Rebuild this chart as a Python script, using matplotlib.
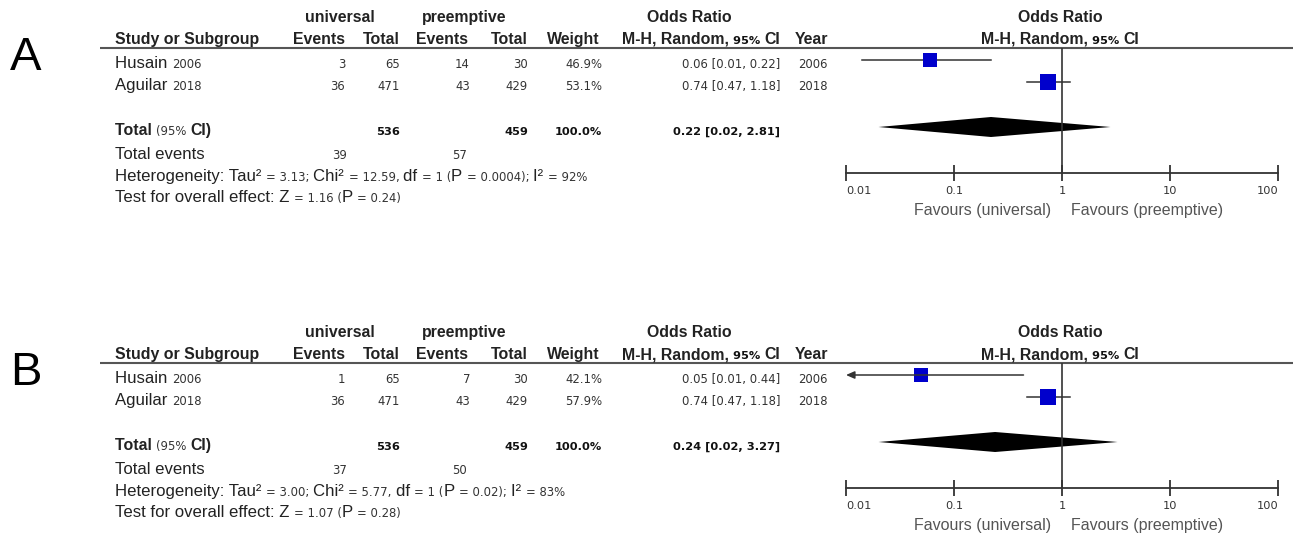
import matplotlib
matplotlib.use("Agg")
import matplotlib.pyplot as plt
from matplotlib.ticker import FixedLocator, FixedFormatter, NullLocator

# ---------------- data ----------------
panel_labels = ["A", "B"]
studies = ["Husain", "Aguilar"]
study_years = ["2006", "2018"]
tick_values = [0.01, 0.1, 1, 10, 100]
tick_labels = ["0.01", "0.1", "1", "10", "100"]
group_names = ["universal", "preemptive"]
favours = ["Favours (universal)", "Favours (preemptive)"]

A_events_u = [3, 36]
A_total_u = [65, 471]
A_events_p = [14, 43]
A_total_p = [30, 429]
A_weight = [46.9, 53.1]
A_or = [0.06, 0.74]
A_lo = [0.014, 0.47]
A_hi = [0.22, 1.18]
A_pooled = [0.22, 0.02, 2.81]
A_tau2, A_chi2, A_df, A_phet, A_i2 = "3.13", "12.59", "1", "0.0004", "92"
A_z, A_pz = "1.16", "0.24"

B_events_u = [1, 36]
B_total_u = [65, 471]
B_events_p = [7, 43]
B_total_p = [30, 429]
B_weight = [42.1, 57.9]
B_or = [0.05, 0.74]
B_lo = [0.006, 0.47]
B_hi = [0.44, 1.18]
B_pooled = [0.24, 0.02, 3.27]
B_tau2, B_chi2, B_df, B_phet, B_i2 = "3.00", "5.77", "1", "0.02", "83"
B_z, B_pz = "1.07", "0.28"

panels = [
    dict(ev_u=A_events_u, tot_u=A_total_u, ev_p=A_events_p, tot_p=A_total_p,
         w=A_weight, orr=A_or, lo=A_lo, hi=A_hi, pooled=A_pooled,
         het=(A_tau2, A_chi2, A_df, A_phet, A_i2), z=(A_z, A_pz)),
    dict(ev_u=B_events_u, tot_u=B_total_u, ev_p=B_events_p, tot_p=B_total_p,
         w=B_weight, orr=B_or, lo=B_lo, hi=B_hi, pooled=B_pooled,
         het=(B_tau2, B_chi2, B_df, B_phet, B_i2), z=(B_z, B_pz)),
]

# ---------------- styles ----------------
W, H = 1293, 535
fig = plt.figure(figsize=(W / 100, H / 100), dpi=100)
bg = fig.add_axes([0, 0, 1, 1])
bg.set_xlim(0, W)
bg.set_ylim(H, 0)
bg.axis("off")
renderer = fig.canvas.get_renderer()

TXT = "#222222"
BIG = dict(family="Liberation Sans", fontsize=12.1, color=TXT)
BIGB = dict(family="Liberation Sans", fontsize=11.4, color=TXT, fontweight="bold")
SM = dict(family="DejaVu Sans", fontsize=8.4, color="#333333")
SMB = dict(family="DejaVu Sans", fontsize=8.2, color="#111111", fontweight="bold")


def rich(x, y, segs, ha="left"):
    texts, widths = [], []
    for s, st in segs:
        t = bg.text(0, y, s, va="baseline", ha="left", **st)
        texts.append(t)
        widths.append(t.get_window_extent(renderer).width)
    total = sum(widths)
    start = x if ha == "left" else (x - total if ha == "right" else x - total / 2)
    cx = start
    for t, w in zip(texts, widths):
        t.set_x(cx)
        cx += w


def txt(x, y, s, st, ha="right"):
    bg.text(x, y, s, va="baseline", ha=ha, **st)


col_evu, col_totu, col_evp, col_totp = 345, 400, 470, 528
col_w, col_or, col_year = 602, 780, 828
name_x = 115
forest_left, forest_right = 846, 1278

for k, p in enumerate(panels):
    off = 315 * k
    # panel letter
    bg.text(26, 70 + off, panel_labels[k], family="Liberation Sans", fontsize=34,
            color="black", ha="center", va="baseline")
    # header line 1
    rich(340, 22 + off, [(group_names[0], BIGB)], ha="center")
    rich(464, 22 + off, [(group_names[1], BIGB)], ha="center")
    rich(689, 22 + off, [("Odds Ratio", BIGB)], ha="center")
    rich(1060, 22 + off, [("Odds Ratio", BIGB)], ha="center")
    # header line 2
    rich(name_x, 44 + off, [("Study or Subgroup", BIGB)])
    rich(col_evu, 44 + off, [("Events", BIGB)], ha="right")
    rich(col_totu, 44 + off, [("Total", BIGB)], ha="right")
    rich(468, 44 + off, [("Events", BIGB)], ha="right")
    rich(col_totp, 44 + off, [("Total", BIGB)], ha="right")
    rich(600, 44 + off, [("Weight", BIGB)], ha="right")
    rich(col_or, 44 + off, [("M-H, Random, ", BIGB), ("95% ", SMB), ("CI", BIGB)], ha="right")
    rich(col_year, 44 + off, [("Year", BIGB)], ha="right")
    rich(1060, 44 + off, [("M-H, Random, ", BIGB), ("95% ", SMB), ("CI", BIGB)], ha="center")
    bg.plot([100, W], [48 + off, 48 + off], color="#555555", lw=1.5, solid_capstyle="butt")

    # study rows
    row_base = [68, 90]
    for i in range(len(studies)):
        yb = row_base[i] + off
        rich(name_x, yb, [(studies[i] + " ", BIG), (study_years[i], SM)])
        txt(col_evu, yb, str(p["ev_u"][i]), SM)
        txt(col_totu, yb, str(p["tot_u"][i]), SM)
        txt(col_evp, yb, str(p["ev_p"][i]), SM)
        txt(col_totp, yb, str(p["tot_p"][i]), SM)
        txt(col_w, yb, f"{p['w'][i]:.1f}%", SM)
        txt(col_or, yb, f"{p['orr'][i]:.2f} [{p['lo'][i]:.2f}, {p['hi'][i]:.2f}]", SM)
        txt(col_year, yb, study_years[i], SM)

    # total row
    yb = 135 + off
    rich(name_x, yb, [("Total ", BIGB), ("(95% ", SM), ("CI)", BIGB)])
    txt(col_totu, yb, str(sum(p["tot_u"])), SMB)
    txt(col_totp, yb, str(sum(p["tot_p"])), SMB)
    txt(col_w, yb, f"{sum(p['w']):.1f}%", SMB)
    po = p["pooled"]
    txt(col_or, yb, f"{po[0]:.2f} [{po[1]:.2f}, {po[2]:.2f}]", SMB)

    yb = 159 + off
    rich(name_x, yb, [("Total events", BIG)])
    txt(347, yb, str(sum(p["ev_u"])), SM)
    txt(467, yb, str(sum(p["ev_p"])), SM)

    tau2, chi2, df, ph, i2 = p["het"]
    rich(name_x, 181 + off, [("Heterogeneity: Tau\u00b2 ", BIG), ("= " + tau2 + "; ", SM),
                             ("Chi\u00b2 ", BIG), ("= " + chi2 + ", ", SM),
                             ("df ", BIG), ("= " + df + " (", SM), ("P ", BIG),
                             ("= " + ph + "); ", SM), ("I\u00b2 ", BIG), ("= " + i2 + "%", SM)])
    z, pz = p["z"]
    rich(name_x, 202 + off, [("Test for overall effect: Z ", BIG), ("= " + z + " (", SM),
                             ("P ", BIG), ("= " + pz + ")", SM)])

    # forest plot axes (y in pixel units)
    top, bottom = 48 + off, 173 + off
    ax = fig.add_axes([forest_left / W, (H - bottom) / H,
                       (forest_right - forest_left) / W, (bottom - top) / H])
    ax.set_xscale("log")
    ax.set_xlim(tick_values[0], tick_values[-1])
    ax.set_ylim(bottom, top)
    ax.patch.set_alpha(0)
    for s in ["top", "left", "right"]:
        ax.spines[s].set_visible(False)
    ax.spines["bottom"].set_color("#333333")
    ax.spines["bottom"].set_linewidth(1.3)
    ax.xaxis.set_major_locator(FixedLocator(tick_values))
    ax.xaxis.set_major_formatter(FixedFormatter(tick_labels))
    ax.xaxis.set_minor_locator(NullLocator())
    ax.tick_params(axis="x", direction="inout", length=11, width=1.3, color="#333333",
                   pad=4, labelsize=8.2, labelcolor="#333333")
    labs = ax.get_xticklabels()
    for lab in labs:
        lab.set_family("DejaVu Sans")
    labs[0].set_horizontalalignment("left")
    labs[-1].set_horizontalalignment("right")
    ax.set_yticks([])
    ax.axvline(1, color="#333333", lw=1.2, ymin=0, ymax=1)

    sq_y = [60 + off, 82 + off]
    for i in range(len(studies)):
        lo = p["lo"][i]
        if lo < tick_values[0]:
            ax.annotate("", xy=(tick_values[0], sq_y[i]), xytext=(p["hi"][i], sq_y[i]),
                        arrowprops=dict(arrowstyle="-|>,head_length=0.5,head_width=0.22",
                                        color="#333333", lw=1.1, shrinkA=0, shrinkB=0),
                        annotation_clip=False)
        else:
            ax.plot([lo, p["hi"][i]], [sq_y[i], sq_y[i]], color="#333333", lw=1.1,
                    clip_on=False)
        ax.plot([p["orr"][i]], [sq_y[i]], marker="s", color="#0000CC",
                markersize=1.55 * p["w"][i] ** 0.5, markeredgewidth=0, clip_on=False)

    dy = 127 + off
    ax.fill([po[1], po[0], po[2], po[0]], [dy, dy - 10, dy, dy + 10], color="black",
            lw=0, clip_on=False)

    # favours labels
    rich(1051, 215 + off, [(favours[0], dict(BIG, fontsize=11.5, color="#555555"))], ha="right")
    rich(1071, 215 + off, [(favours[1], dict(BIG, fontsize=11.5, color="#555555"))], ha="left")

fig.savefig("out.png", dpi=100)
